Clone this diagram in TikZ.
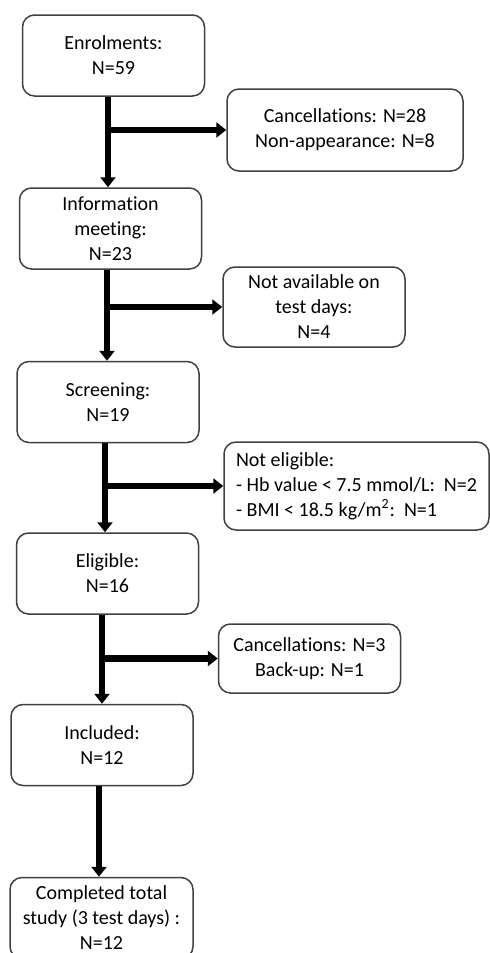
\documentclass[tikz,border=0pt]{standalone}
\usepackage{fontspec}
\setmainfont{Carlito}[Ligatures=NoCommon]
\usepackage{tikz}
\usetikzlibrary{arrows.meta}

\begin{document}
\begin{tikzpicture}[x=0.5pt, y=-0.5pt,
    every node/.style={font=\fontsize{10pt}{12.5pt}\selectfont},
    stage/.style={draw=black!75, line width=0.75pt, rounded corners=6pt,
      align=center, inner sep=0pt, minimum width=91pt, minimum height=40.5pt},
    flow/.style={line width=3.2pt, -{Triangle[length=5pt, width=7.5pt]}}]
      \useasboundingbox (0,0) rectangle (489,953);
      % main line
      \node[stage] (E) at (113.5,55.5) {Enrolments:\\N=59};
      \node[stage] (I) at (110.5,228.5) {Information\\meeting:\\N=23};
      \node[stage] (S) at (108,402) {Screening:\\N=19};
      \node[stage] (G) at (107.5,573.5) {Eligible:\\N=16};
      \node[stage] (C) at (102,745) {Included:\\N=12};
      \node[stage, minimum width=91.5pt] (T) at (101.5,918) {Completed total\\study (3 test days) :\\N=12};
      % drop-outs
      \node[stage, minimum width=118pt, minimum height=41pt] (e) at (345,130) {Cancellations: N=28\\Non-appearance: N=8};
      \node[stage, minimum height=40pt] (i) at (314,307) {Not available on\\test days:\\N=4};
      \node[stage, minimum width=132.5pt, minimum height=44pt, align=left] (s) at (356.5,486)
        {Not eligible:\\- Hb value < 7.5 mmol/L:\ \ N=2\\- BMI < 18.5 kg/m\textsuperscript{2}:\ \ N=1};
      \node[stage, minimum height=34.5pt] (g) at (309.5,658.5) {Cancellations: N=3\\Back-up: N=1};
      % arrows
      \draw[flow] ([xshift=-2.75pt]E.south) -- ([xshift=-2.75pt]E.south |- I.north);
      \draw[flow] ([xshift=-2.75pt]E.south |- e.west) -- (e.west);
      \draw[flow] ([xshift=-1.75pt]I.south) -- ([xshift=-1.75pt]I.south |- S.north);
      \draw[flow] ([xshift=-1.75pt]I.south |- i.west) -- (i.west);
      \draw[flow] ([xshift=-1.5pt]S.south) -- ([xshift=-1.5pt]S.south |- G.north);
      \draw[flow] ([xshift=-1.5pt]S.south |- s.west) -- (s.west);
      \draw[flow] ([xshift=-2.75pt]G.south) -- ([xshift=-2.75pt]G.south |- C.north);
      \draw[flow] ([xshift=-2.75pt]G.south |- g.west) -- (g.west);
      \draw[flow] ([xshift=-1.5pt]C.south) -- ([xshift=-1.5pt]C.south |- T.north);
    \end{tikzpicture}
\end{document}
